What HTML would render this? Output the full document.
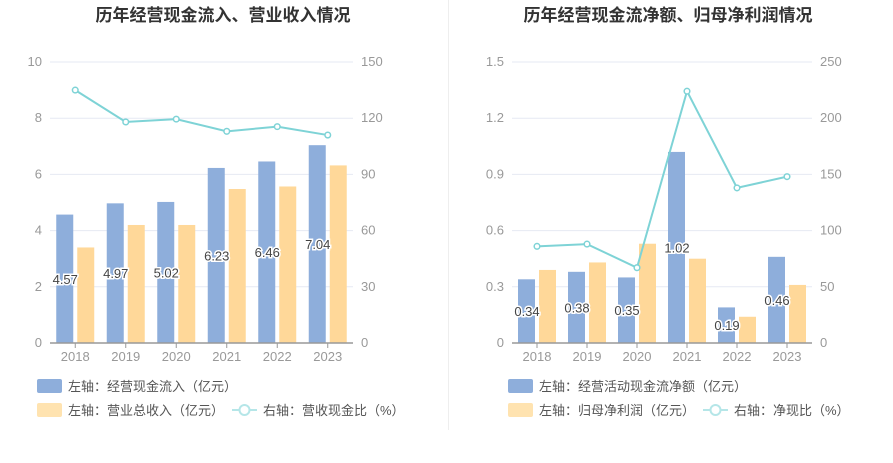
<!DOCTYPE html>
<html><head><meta charset="utf-8"><style>
body{margin:0;background:#fff;width:893px;height:458px;overflow:hidden;font-family:"Liberation Sans","Noto Sans CJK SC",sans-serif}
svg text{font-family:"Liberation Sans","Noto Sans CJK SC",sans-serif}
</style></head><body>
<svg id="s" width="893" height="458">
<line x1="448.5" y1="0" x2="448.5" y2="430" stroke="#eee"/>
</svg>
<script>
const years=["2018","2019","2020","2021","2022","2023"];
const c1Inflow=[4.57,4.97,5.02,6.23,6.46,7.04];
const c1Revenue=[3.4,4.2,4.2,5.48,5.57,6.32];
const c1Ratio=[135,118,119.5,113,115.5,111];
const c1LeftTicks=[0,2,4,6,8,10];
const c1RightTicks=[0,30,60,90,120,150];
const c2Net=[0.34,0.38,0.35,1.02,0.19,0.46];
const c2Profit=[0.39,0.43,0.53,0.45,0.14,0.31];
const c2Ratio=[86,88,67,224,138,148];
const c2LeftTicks=["0","0.3","0.6","0.9","1.2","1.5"];
const c2RightTicks=[0,50,100,150,200,250];
const NS="http://www.w3.org/2000/svg",svg=document.getElementById('s');
function mk(t,a,txt){const e=document.createElementNS(NS,t);for(const k in a)e.setAttribute(k,a[k]);if(txt!=null)e.textContent=txt;svg.appendChild(e);return e;}
function chart(o){
 const top=62,bot=343,L=o.left,R=o.right,lmax=o.lmax,rmax=o.rmax;
 const yl=v=>bot-(v/lmax)*(bot-top), yr=v=>bot-(v/rmax)*(bot-top);
 const bw=(R-L)/years.length, cx=i=>L+bw*(i+0.5);
 let t=mk('text',{x:o.tx,y:21,'text-anchor':'middle','font-size':17,'font-weight':'bold',fill:'#333'},o.title);
 
 o.lt.forEach((v,i)=>{const y=bot-i*(bot-top)/5;
  if(i>0){let g=mk('line',{x1:L,x2:R,y1:y,y2:y,stroke:'#e6e9f3'});}
  let a=mk('text',{x:L-8,y:y+4,'text-anchor':'end','font-size':13,fill:'#999'},v);
  let b=mk('text',{x:R+8,y:y+4,'font-size':13,fill:'#999'},o.rt[i]);});
 years.forEach((y,i)=>{
  let b1=mk('rect',{x:cx(i)-19,y:yl(o.a[i]),width:17,height:bot-yl(o.a[i]),fill:'#8eaedb'});
  let b2=mk('rect',{x:cx(i)+2,y:yl(o.b[i]),width:17,height:bot-yl(o.b[i]),fill:'#ffd899'});
  let lb=mk('text',{x:cx(i)-10,y:(yl(o.a[i])+bot)/2+5,'text-anchor':'middle','font-size':13,fill:'#444',stroke:'#fff','stroke-width':3,'paint-order':'stroke'},o.a[i].toFixed(2));
  let tk=mk('line',{x1:cx(i),x2:cx(i),y1:bot,y2:bot+5,stroke:'#999'});
  let xl=mk('text',{x:cx(i),y:bot+18,'text-anchor':'middle','font-size':13,fill:'#999'},y);});
 let ax=mk('line',{x1:L,x2:R,y1:bot,y2:bot,stroke:'#999','stroke-width':1.5});
 let pl=mk('polyline',{points:o.r.map((v,i)=>cx(i)+','+yr(v)).join(' '),fill:'none',stroke:'#7ed3d6','stroke-width':2});
 o.r.forEach((v,i)=>{let c=mk('circle',{cx:cx(i),cy:yr(v),r:2.8,fill:'#fff',stroke:'#7ed3d6','stroke-width':1.5});});
 const lx=o.lx;
 let r1=mk('rect',{x:lx,y:379,width:25,height:14,rx:2,fill:'#8eaedb'});
 let t1=mk('text',{x:lx+31,y:391,'font-size':13,fill:'#555'},o.la);
 let r2=mk('rect',{x:lx,y:403,width:25,height:14,rx:2,fill:'#ffe3b0'});
 let t2=mk('text',{x:lx+31,y:415,'font-size':13,fill:'#555'},o.lb);
 let l3=mk('line',{x1:o.l3,x2:o.l3+25,y1:410,y2:410,stroke:'#b5e6e8','stroke-width':2});
 let c3=mk('circle',{cx:o.l3+12.5,cy:410,r:5,fill:'#fff',stroke:'#b5e6e8','stroke-width':2});
 let t3=mk('text',{x:o.l3+31,y:415,'font-size':13,fill:'#555'},o.lc);
}
chart({id:'chart1',title:'历年经营现金流入、营业收入情况',tx:223,left:50,right:353,lmax:10,rmax:150,lt:c1LeftTicks,rt:c1RightTicks,a:c1Inflow,b:c1Revenue,r:c1Ratio,lx:37,l3:232,la:'左轴：经营现金流入（亿元）',lb:'左轴：营业总收入（亿元）',lc:'右轴：营收现金比（%）'});
chart({id:'chart2',title:'历年经营现金流净额、归母净利润情况',tx:668,left:512,right:812,lmax:1.5,rmax:250,lt:c2LeftTicks,rt:c2RightTicks,a:c2Net,b:c2Profit,r:c2Ratio,lx:508,l3:703,la:'左轴：经营活动现金流净额（亿元）',lb:'左轴：归母净利润（亿元）',lc:'右轴：净现比（%）'});
</script>
</body></html>
